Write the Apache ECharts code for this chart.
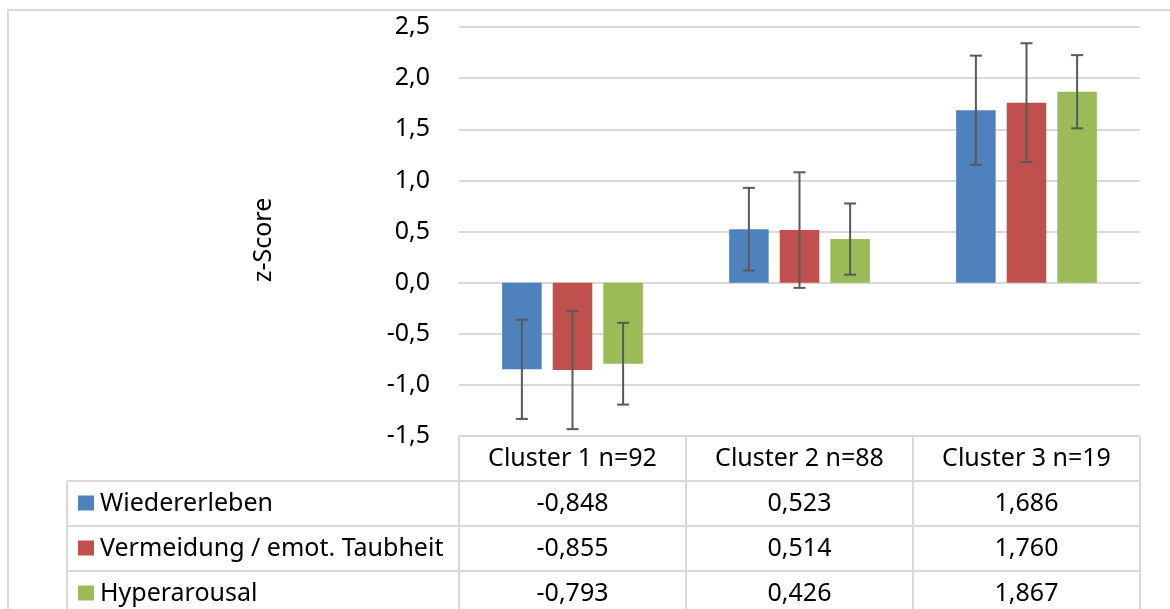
<!DOCTYPE html>
<html>
<head>
<meta charset="utf-8">
<script src="https://cdn.jsdelivr.net/npm/echarts@6/dist/echarts.min.js"></script>
<style>
html,body{margin:0;padding:0;background:#fff;}
#chart{width:1170px;height:609px;}
</style>
</head>
<body>
<div id="chart"></div>
<script>
// ---- Data ----
const categories = ['Cluster 1 n=92', 'Cluster 2 n=88', 'Cluster 3 n=19'];
const seriesNames = ['Wiedererleben', 'Vermeidung / emot. Taubheit', 'Hyperarousal'];
const wiedererleben = [-0.848, 0.523, 1.686];
const vermeidung = [-0.855, 0.514, 1.760];
const hyperarousal = [-0.793, 0.426, 1.867];
const errWiedererleben = [0.485, 0.404, 0.534];
const errVermeidung = [0.578, 0.565, 0.581];
const errHyperarousal = [0.400, 0.348, 0.358];
const yTicks = [-1.5, -1.0, -0.5, 0.0, 0.5, 1.0, 1.5, 2.0, 2.5];
const yAxisTitle = 'z-Score';

// ---- Style / layout ----
const colors = ['#4F81BD', '#C0504D', '#9BBB59'];
const FONT = '"Noto Sans", "Open Sans", sans-serif';
const FS = 25;
const GRID_L = 459, GRID_R = 1140, GRID_T = 27, GRID_B = 436;
const HEADER_B = 481, ROW_H = 45, LEGEND_L = 67;
const BAR_GAP = 0.28, CAT_GAP = 0.38;

const values = [wiedererleben, vermeidung, hyperarousal];
const errors = [errWiedererleben, errVermeidung, errHyperarousal];
const fmt3 = v => v.toFixed(3).replace('.', ',');

const chart = echarts.init(document.getElementById('chart'), null, {renderer: 'canvas'});

const barSeries = values.map((vals, s) => ({
  name: seriesNames[s],
  type: 'bar',
  data: vals,
  barGap: (BAR_GAP * 100) + '%',
  barCategoryGap: (CAT_GAP * 100) + '%',
  itemStyle: {color: colors[s]},
  z: 2
}));

const errSeries = values.map((vals, s) => ({
  type: 'custom',
  name: 'err' + s,
  data: vals.map((v, i) => [i, v, errors[s][i]]),
  z: 5,
  renderItem: function (params, api) {
    const ci = api.value(0), v = api.value(1), e = api.value(2);
    const band = api.size([1, 0])[0];
    const n = 3;
    const bw = band * (1 - CAT_GAP) / (n + (n - 1) * BAR_GAP);
    const total = n * bw + (n - 1) * bw * BAR_GAP;
    const off = -total / 2 + s * bw * (1 + BAR_GAP) + bw / 2;
    const top = api.coord([ci, v + e]);
    const bot = api.coord([ci, v - e]);
    const x = top[0] + off;
    const cap = 6;
    const st = {stroke: '#595959', lineWidth: 2};
    return {
      type: 'group',
      children: [
        {type: 'line', shape: {x1: x, y1: top[1], x2: x, y2: bot[1]}, style: st},
        {type: 'line', shape: {x1: x - cap, y1: top[1], x2: x + cap, y2: top[1]}, style: st},
        {type: 'line', shape: {x1: x - cap, y1: bot[1], x2: x + cap, y2: bot[1]}, style: st}
      ]
    };
  }
}));

// ---- Data table graphics ----
const lineStyle = {stroke: '#d9d9d9', lineWidth: 2};
const g = [];
g.push({type: 'rect', shape: {x: 8, y: 10, width: 1200, height: 700}, style: {fill: 'none', stroke: '#d9d9d9', lineWidth: 2}, z: 0});
const colW = (GRID_R - GRID_L) / categories.length;
const nRows = seriesNames.length;
const tableBottom = HEADER_B + ROW_H * nRows;
g.push({type: 'line', shape: {x1: GRID_L, y1: GRID_B, x2: GRID_R, y2: GRID_B}, style: lineStyle});
for (let r = 0; r <= nRows; r++) {
  const y = HEADER_B + r * ROW_H;
  g.push({type: 'line', shape: {x1: LEGEND_L, y1: y, x2: GRID_R, y2: y}, style: lineStyle});
}
g.push({type: 'line', shape: {x1: LEGEND_L, y1: HEADER_B, x2: LEGEND_L, y2: tableBottom}, style: lineStyle});
for (let c = 0; c <= categories.length; c++) {
  const x = GRID_L + c * colW;
  g.push({type: 'line', shape: {x1: x, y1: GRID_B, x2: x, y2: tableBottom}, style: lineStyle});
}
categories.forEach((cat, c) => {
  g.push({type: 'text', x: GRID_L + (c + 0.5) * colW, y: (GRID_B + HEADER_B) / 2,
    style: {text: cat, font: FS + 'px ' + FONT, fill: '#000', align: 'center', verticalAlign: 'middle'}});
});
seriesNames.forEach((name, r) => {
  const yc = HEADER_B + (r + 0.5) * ROW_H;
  g.push({type: 'rect', shape: {x: 78, y: yc - 8, width: 16, height: 15}, style: {fill: colors[r]}});
  g.push({type: 'text', x: 100, y: yc, style: {text: name, font: FS + 'px ' + FONT, fill: '#000', align: 'left', verticalAlign: 'middle'}});
  values[r].forEach((v, c) => {
    g.push({type: 'text', x: GRID_L + (c + 0.5) * colW, y: yc,
      style: {text: fmt3(v), font: FS + 'px ' + FONT, fill: '#000', align: 'center', verticalAlign: 'middle'}});
  });
});
g.push({type: 'text', x: 264, y: 240, rotation: Math.PI / 2,
  style: {text: yAxisTitle, font: FS + 'px ' + FONT, fill: '#000', align: 'center', verticalAlign: 'middle'}});

chart.setOption({
  animation: false,
  backgroundColor: '#fff',
  grid: {left: GRID_L, right: 1170 - GRID_R, top: GRID_T, bottom: 609 - GRID_B, containLabel: false},
  xAxis: {
    type: 'category',
    data: categories,
    axisLine: {show: true, onZero: true, lineStyle: {color: '#d9d9d9', width: 2}},
    axisTick: {show: false},
    axisLabel: {show: false},
    splitLine: {show: false}
  },
  yAxis: {
    type: 'value',
    min: yTicks[0],
    max: yTicks[yTicks.length - 1],
    interval: 0.5,
    axisLine: {show: false},
    axisTick: {show: false},
    axisLabel: {
      margin: 29,
      fontFamily: FONT,
      fontSize: FS,
      color: '#000',
      formatter: v => v.toFixed(1).replace('.', ',')
    },
    splitLine: {show: true, lineStyle: {color: '#d9d9d9', width: 2}}
  },
  series: barSeries.concat(errSeries),
  graphic: g
});
</script>
</body>
</html>
